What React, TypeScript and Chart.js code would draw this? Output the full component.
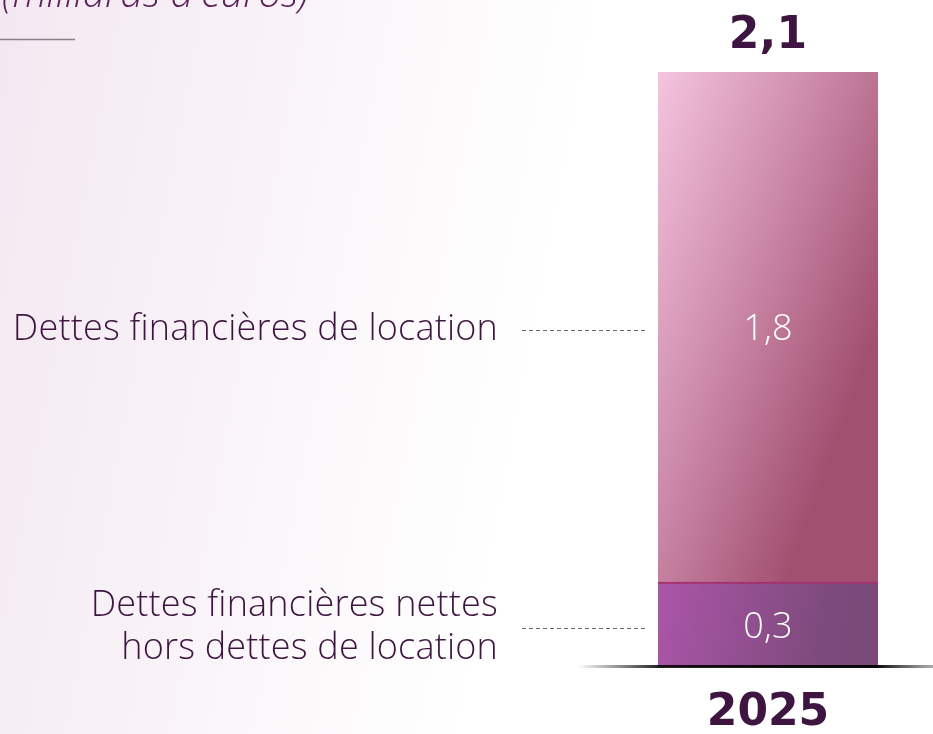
import React, { useEffect, useRef } from "react";
import { Chart, registerables } from "chart.js";

Chart.register(...registerables);

const categories = ["2025"];
const seriesLines = [
  ["Dettes financières nettes", "hors dettes de location"],
  ["Dettes financières de location"],
];
const netDebtExLeases = [0.3];
const leaseDebt = [1.8];
const unitLabel = "(milliards d'euros)";
const yMax = 2.1;

const LIGHT = "'Open Sans', Lato, sans-serif";
const BOLD = "'DejaVu Sans', 'Open Sans', sans-serif";
const DARK = "#3e1540";

const fmt = (v: number) =>
  v.toLocaleString("fr-FR", { minimumFractionDigits: 1, maximumFractionDigits: 1 });

const decor = {
  id: "decor",
  beforeDraw(chart: any) {
    const { ctx, width, height } = chart;
    ctx.save();
    const g = ctx.createLinearGradient(0, 0, width * 0.62, height * 0.15);
    g.addColorStop(0, "#f3e8f1");
    g.addColorStop(1, "#ffffff");
    ctx.fillStyle = g;
    ctx.fillRect(0, 0, width, height);
    ctx.font = `italic 300 40px ${LIGHT}`;
    ctx.fillStyle = "#5b1f5a";
    ctx.textAlign = "left";
    ctx.textBaseline = "alphabetic";
    ctx.fillText(unitLabel, 2, 7);
    ctx.strokeStyle = "#8c7d88";
    ctx.lineWidth = 1.5;
    ctx.beginPath();
    ctx.moveTo(0, 39.5);
    ctx.lineTo(75, 39.5);
    ctx.stroke();
    ctx.restore();
  },
  afterDatasetsDraw(chart: any) {
    const { ctx } = chart;
    ctx.save();
    if ("letterSpacing" in ctx) (ctx as any).letterSpacing = "0.2px";
    let topY = Infinity;
    let barX = 0;
    let barLeft = 0;
    let barRight = 0;
    let baseY = 0;
    let total = 0;
    chart.data.datasets.forEach((ds: any, i: number) => {
      const meta = chart.getDatasetMeta(i);
      const bar = meta.data[0];
      if (!bar) return;
      const p = bar.getProps(["x", "y", "base", "width"], true);
      const v = ds.data[0];
      total += v;
      topY = Math.min(topY, p.y);
      barX = p.x;
      barLeft = p.x - p.width / 2;
      barRight = p.x + p.width / 2;
      baseY = Math.max(baseY, p.base);
      const cy = (p.y + p.base) / 2 + 3;
      ctx.font = `300 36px ${LIGHT}`;
      ctx.fillStyle = "#ffffff";
      ctx.textAlign = "center";
      ctx.textBaseline = "middle";
      ctx.fillText(fmt(v), p.x, cy);
      ctx.strokeStyle = "#6d6470";
      ctx.lineWidth = 1;
      ctx.setLineDash([4, 3]);
      ctx.beginPath();
      ctx.moveTo(barLeft - 136, Math.round(cy) + 0.5);
      ctx.lineTo(barLeft - 10, Math.round(cy) + 0.5);
      ctx.stroke();
      ctx.setLineDash([]);
      const lines = seriesLines[i];
      ctx.font = `300 36px ${LIGHT}`;
      ctx.fillStyle = DARK;
      ctx.textAlign = "right";
      const lh = 43;
      const start = cy - ((lines.length - 1) * lh) / 2;
      lines.forEach((t: string, k: number) => {
        ctx.fillText(t, barLeft - 160, start + k * lh);
      });
    });
    ctx.font = `bold 44px ${BOLD}`;
    ctx.fillStyle = DARK;
    ctx.textAlign = "center";
    ctx.textBaseline = "alphabetic";
    ctx.fillText(fmt(total), barX, topY - 24);
    const lg = ctx.createLinearGradient(578, 0, 933, 0);
    lg.addColorStop(0, "rgba(0,0,0,0)");
    lg.addColorStop((barLeft - 578) / 355, "rgba(0,0,0,0.85)");
    lg.addColorStop((barRight - 578) / 355, "rgba(0,0,0,0.95)");
    lg.addColorStop(1, "rgba(90,90,90,0.5)");
    ctx.strokeStyle = lg;
    ctx.lineWidth = 3;
    ctx.beginPath();
    ctx.moveTo(578, baseY - 0.5);
    ctx.lineTo(933, baseY - 0.5);
    ctx.stroke();
    ctx.restore();
  },
};

function topGradient(ctx: any) {
  const chart = ctx.chart;
  const a = chart.chartArea;
  if (!a) return "#c98aa6";
  const g = chart.ctx.createLinearGradient(a.left, a.top, a.left + 277, a.top + 101);
  g.addColorStop(0, "#f4c4df");
  g.addColorStop(0.5, "#cd8bab");
  g.addColorStop(1, "#a25070");
  return g;
}

function bottomGradient(ctx: any) {
  const chart = ctx.chart;
  const a = chart.chartArea;
  if (!a) return "#8e4f8a";
  const g = chart.ctx.createLinearGradient(a.left, a.bottom - 40, a.right, a.bottom);
  g.addColorStop(0, "#a955a6");
  g.addColorStop(0.75, "#7c4a7b");
  g.addColorStop(1, "#7a4a78");
  return g;
}

export default function App() {
  const ref = useRef<HTMLCanvasElement>(null);
  useEffect(() => {
    if (!ref.current) return;
    const chart = new Chart(ref.current, {
      type: "bar",
      data: {
        labels: categories,
        datasets: [
          {
            label: seriesLines[0].join(" "),
            data: netDebtExLeases,
            backgroundColor: bottomGradient,
            borderColor: "#a5306b",
            borderWidth: { top: 2, left: 0, right: 0, bottom: 0 },
            borderSkipped: false,
          },
          {
            label: seriesLines[1].join(" "),
            data: leaseDebt,
            backgroundColor: topGradient,
            borderWidth: 0,
          },
        ],
      },
      options: {
        animation: false,
        responsive: false,
        layout: { padding: { left: 658, right: 55, top: 72, bottom: -27 } },
        datasets: { bar: { barPercentage: 1, categoryPercentage: 1 } },
        plugins: { legend: { display: false }, tooltip: { enabled: false } },
        scales: {
          x: {
            stacked: true,
            grid: { display: false, drawTicks: false },
            border: { display: false },
            ticks: {
              color: DARK,
              padding: 25,
              font: { family: BOLD, size: 44, weight: "bold", lineHeight: 1 },
            },
          },
          y: { stacked: true, display: false, min: 0, max: yMax },
        },
      },
      plugins: [decor],
    });
    return () => chart.destroy();
  }, []);
  return (
    <div style={{ position: "absolute", left: 0, top: 0, width: 933, height: 734 }}>
      <canvas ref={ref} width={933} height={734} />
    </div>
  );
}
